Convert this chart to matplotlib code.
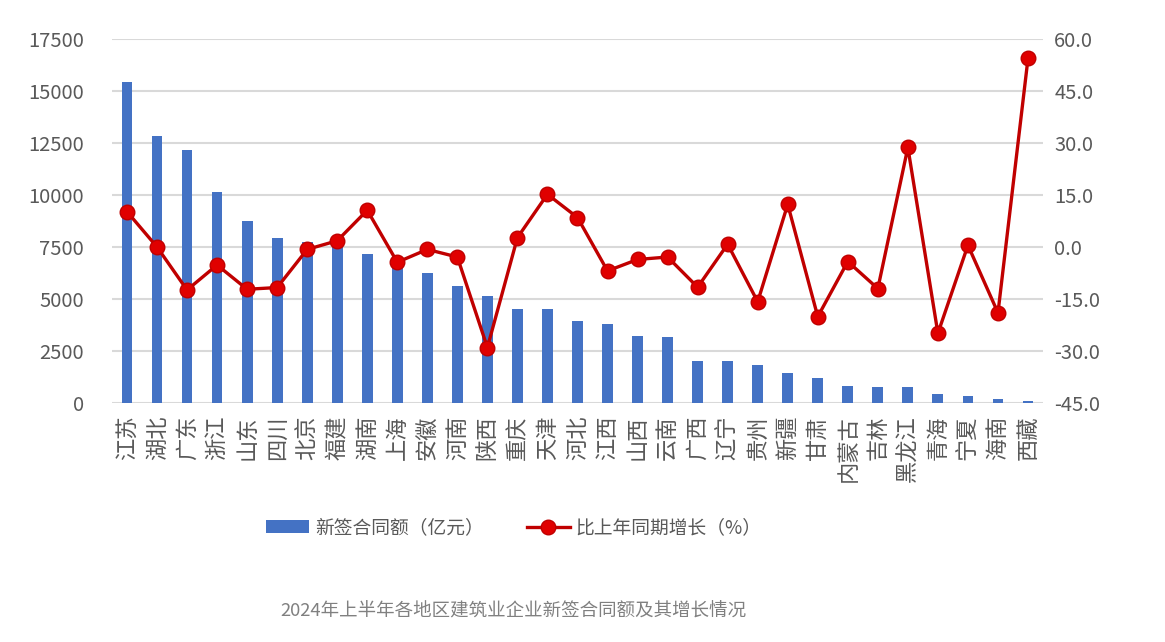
import numpy as np
import matplotlib
matplotlib.use("Agg")
import matplotlib.pyplot as plt

plt.rcParams['font.family'] = ['Noto Sans CJK SC', 'DejaVu Sans']

# 各地区数据
regions = ['江苏', '湖北', '广东', '浙江', '山东', '四川', '北京', '福建', '湖南', '上海',
           '安徽', '河南', '陕西', '重庆', '天津', '河北', '江西', '山西', '云南', '广西',
           '辽宁', '贵州', '新疆', '甘肃', '内蒙古', '吉林', '黑龙江', '青海', '宁夏', '海南', '西藏']
# 新签合同额（亿元）
amounts = [15450, 12840, 12160, 10140, 8740, 7930, 7760, 7550, 7150, 6900,
           6230, 5610, 5130, 4510, 4500, 3960, 3780, 3220, 3160, 2010,
           2000, 1810, 1460, 1200, 830, 790, 780, 420, 350, 180, 110]
# 比上年同期增长（%）
growth = [10.2, 0.0, -12.4, -5.2, -12.2, -11.7, -0.7, 1.8, 10.6, -4.4,
          -0.7, -2.9, -29.0, 2.7, 15.2, 8.5, -6.9, -3.6, -2.9, -11.6,
          0.8, -15.8, 12.3, -20.1, -4.2, -12.0, 28.7, -24.9, 0.5, -19.0, 54.4]

left_ticks = [0, 2500, 5000, 7500, 10000, 12500, 15000, 17500]
right_ticks = [-45.0, -30.0, -15.0, 0.0, 15.0, 30.0, 45.0, 60.0]

tick_color = '#595959'

fig = plt.figure(figsize=(11.65, 6.42), dpi=100)
ax = fig.add_axes([0.0961, 0.3723, 0.7992, 0.567])
ax2 = ax.twinx()

x = np.arange(len(regions))
bars = ax.bar(x, amounts, width=0.36, color='#4472C4', zorder=2)
line, = ax2.plot(x, growth, color='#C00000', linewidth=2.4, marker='o',
                 markersize=10.5, markerfacecolor='#E00000', markeredgecolor='#C00000',
                 markeredgewidth=1.0)

ax.set_xlim(-0.5, len(regions) - 0.5)
ax.set_ylim(0, 17500)
ax2.set_ylim(-45, 60)
ax.set_yticks(left_ticks)
ax.set_yticklabels([str(v) for v in left_ticks])
ax2.set_yticks(right_ticks)
ax2.set_yticklabels(['%.1f' % v for v in right_ticks])

ax.grid(axis='y', color='#D9D9D9', linewidth=1.5, zorder=0)
ax.set_axisbelow(True)
for a in (ax, ax2):
    for s in a.spines.values():
        s.set_visible(False)
    a.tick_params(length=0, labelsize=14.5, colors=tick_color)

ax.tick_params(axis='y', pad=20)
ax2.tick_params(axis='y', pad=8)

# 地区名竖排（旋转90度，自下而上）
ax.set_xticks(x)
ax.set_xticklabels(regions, fontsize=16, rotation=90, ha='center', va='top')
ax.tick_params(axis='x', pad=9, colors=tick_color)

fig.legend([bars, line], ['新签合同额（亿元）', '比上年同期增长（%）'],
           loc='center', bbox_to_anchor=(0.441, 0.178), ncol=2, frameon=False,
           fontsize=13.5, handlelength=2.3, columnspacing=2.3, handletextpad=0.3,
           labelcolor=tick_color)

fig.text(0.441, 1 - 612 / 642, '2024年上半年各地区建筑业企业新签合同额及其增长情况',
         ha='center', va='center', fontsize=13.3, color='#808080')

fig.savefig('out.png', dpi=100)
